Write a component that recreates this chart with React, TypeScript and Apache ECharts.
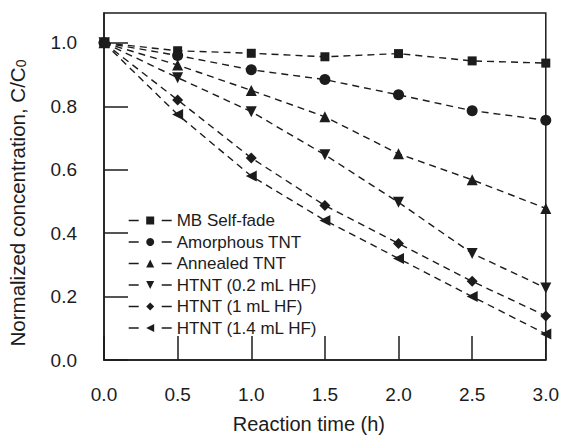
import React, { useEffect, useRef } from "react";
import * as echarts from "echarts";

const times = [0, 0.5, 1.0, 1.5, 2.0, 2.5, 3.0];
const seriesNames = [
  "MB Self-fade",
  "Amorphous TNT",
  "Annealed TNT",
  "HTNT (0.2 mL HF)",
  "HTNT (1 mL HF)",
  "HTNT (1.4 mL HF)",
];
const mbSelfFade = [1.0, 0.975, 0.967, 0.956, 0.966, 0.943, 0.936];
const amorphousTNT = [1.0, 0.96, 0.915, 0.884, 0.836, 0.786, 0.756];
const annealedTNT = [1.0, 0.93, 0.85, 0.767, 0.65, 0.568, 0.478];
const htnt02 = [1.0, 0.89, 0.783, 0.647, 0.497, 0.336, 0.227];
const htnt1 = [1.0, 0.82, 0.637, 0.487, 0.367, 0.248, 0.139];
const htnt14 = [1.0, 0.774, 0.58, 0.44, 0.32, 0.2, 0.082];
const xTicks = [0, 0.5, 1.0, 1.5, 2.0, 2.5, 3.0];
const yTicks = [0, 0.2, 0.4, 0.6, 0.8, 1.0];

const allValues = [mbSelfFade, amorphousTNT, annealedTNT, htnt02, htnt1, htnt14];
const symbols = ["rect", "circle", "triangle", "triangle", "diamond", "triangle"];
const rotations = [0, 0, 0, 180, 0, 90];
const sizes = [9, 11, 11, 11, 11, 11];

const FONT = "'Liberation Sans', Arial, Helvetica, sans-serif";
const INK = "#1c1c1c";

export default function App() {
  const ref = useRef<HTMLDivElement>(null);
  useEffect(() => {
    if (!ref.current) return;
    const chart = echarts.init(ref.current, null, { renderer: "svg" });
    const option = {
      animation: false,
      backgroundColor: "#ffffff",
      textStyle: { fontFamily: FONT, color: INK },
      grid: {
        left: 104,
        right: 14,
        top: 13,
        bottom: 74,
        show: true,
        borderColor: INK,
        borderWidth: 1.5,
        backgroundColor: "transparent",
      },
      graphic: [
        {
          type: "text",
          x: 15,
          y: 203,
          rotation: Math.PI / 2,
          style: {
            text: "{n|Normalized concentration, C/C}{s|0}",
            align: "center",
            verticalAlign: "middle",
            fill: INK,
            rich: {
              n: { fontFamily: FONT, fontSize: 20.5, fill: INK, lineHeight: 26, verticalAlign: "bottom" },
              s: { fontFamily: FONT, fontSize: 14, fill: INK, lineHeight: 20, verticalAlign: "bottom" },
            },
          },
        },
      ],
      legend: {
        orient: "vertical",
        left: 128,
        top: 212,
        padding: 0,
        itemWidth: 43,
        itemHeight: 10,
        itemGap: 4.5,
        data: seriesNames,
        lineStyle: { type: [10, 23], width: 1.4 },
        textStyle: { fontFamily: FONT, fontSize: 17, color: INK, lineHeight: 17 },
      },
      xAxis: {
        type: "value",
        min: xTicks[0],
        max: xTicks[xTicks.length - 1],
        interval: 0.5,
        name: "Reaction time (h)",
        nameLocation: "middle",
        nameGap: 54,
        nameTextStyle: { fontFamily: FONT, fontSize: 20, color: INK, padding: [0, 32, 0, 0] },
        axisLine: { show: true, lineStyle: { color: INK, width: 1.5 } },
        axisTick: { show: true, inside: true, length: 24, lineStyle: { color: INK, width: 1.5 } },
        axisLabel: {
          margin: 25,
          fontSize: 19,
          fontFamily: FONT,
          color: INK,
          formatter: (v: number) => v.toFixed(1),
        },
        splitLine: { show: false },
      },
      yAxis: {
        type: "value",
        min: yTicks[0],
        max: 1.094,
        interval: 0.2,
        axisLine: { show: true, lineStyle: { color: INK, width: 1.5 } },
        axisTick: { show: true, inside: true, length: 24, lineStyle: { color: INK, width: 1.5 } },
        axisLabel: {
          margin: 27,
          fontSize: 19,
          fontFamily: FONT,
          color: INK,
          showMaxLabel: false,
          formatter: (v: number) => (yTicks.some((t) => Math.abs(t - v) < 1e-6) ? v.toFixed(1) : ""),
        },
        splitLine: { show: false },
      },
      series: seriesNames.map((name, i) => ({
        name,
        type: "line",
        data: times.map((t, j) => [t, allValues[i][j]]),
        symbol: symbols[i],
        symbolSize: sizes[i],
        symbolRotate: rotations[i],
        showAllSymbol: true,
        clip: false,
        lineStyle: { color: INK, width: 1.4, type: [7, 5] },
        itemStyle: { color: INK, borderWidth: 0 },
      })),
    };
    chart.setOption(option as any);
    return () => chart.dispose();
  }, []);
  return (
    <div
      ref={ref}
      style={{ position: "fixed", left: 0, top: 0, width: 562, height: 439 }}
    />
  );
}
